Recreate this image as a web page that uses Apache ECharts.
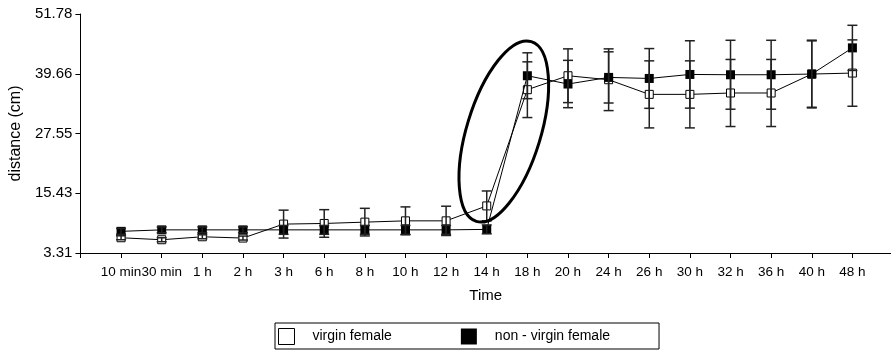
<!DOCTYPE html>
<html>
<head>
<meta charset="utf-8">
<script src="https://cdn.jsdelivr.net/npm/echarts@6/dist/echarts.min.js"></script>
<style>
  html, body { margin: 0; padding: 0; background: #fff; }
  #main { width: 891px; height: 351px; }
</style>
</head>
<body>
<div id="main"></div>
<script>
// time points (x axis)
let categories = ['10 min', '30 min', '1 h', '2 h', '3 h', '6 h', '8 h', '10 h', '12 h', '14 h',
  '18 h', '20 h', '24 h', '26 h', '30 h', '32 h', '36 h', '40 h', '48 h'];
// y tick labels
let yTicks = [3.31, 15.43, 27.55, 39.66, 51.78];

// mean distance (cm)
let virginMean = [6.40, 6.00, 6.60, 6.34, 9.17, 9.30, 9.57, 9.83, 9.83, 12.86,
  36.43, 39.26, 38.45, 35.48, 35.48, 35.76, 35.76, 39.60, 39.80];
let nonVirginMean = [7.70, 8.00, 8.00, 8.00, 8.00, 8.00, 8.00, 8.00, 8.00, 8.10,
  39.26, 37.58, 38.92, 38.71, 39.52, 39.46, 39.46, 39.60, 44.91];
// error (+/-)
let virginErr = [0.4, 0.4, 0.4, 0.4, 2.83, 2.8, 2.8, 2.83, 2.97, 3.03,
  5.65, 5.45, 6.26, 6.8, 6.8, 6.8, 6.8, 6.87, 6.73];
let nonVirginErr = [0.6, 0.6, 0.6, 0.6, 0.9, 0.9, 0.9, 0.9, 0.9, 0.9,
  4.65, 4.8, 5.19, 6.06, 6.83, 6.99, 6.99, 6.73, 4.58];

let legendNames = ['virgin female', 'non - virgin female'];

function toPoints(arr) {
  return arr.map(function (v, i) { return [i + 1, v]; });
}
function toErr(mean, err) {
  return mean.map(function (v, i) { return [i + 1, v - err[i], v + err[i]]; });
}

function errorRender(params, api) {
  let x = api.value(0);
  let lo = api.coord([x, api.value(1)]);
  let hi = api.coord([x, api.value(2)]);
  let hw = 5;
  let st = { stroke: '#222', lineWidth: 1.5 };
  return {
    type: 'group',
    children: [
      { type: 'line', shape: { x1: hi[0], y1: hi[1], x2: lo[0], y2: lo[1] }, style: st },
      { type: 'line', shape: { x1: hi[0] - hw, y1: hi[1], x2: hi[0] + hw, y2: hi[1] }, style: st },
      { type: 'line', shape: { x1: lo[0] - hw, y1: lo[1], x2: lo[0] + hw, y2: lo[1] }, style: st }
    ]
  };
}

let xTickVals = [0].concat(categories.map(function (c, i) { return i + 1; }));
let xLabelVals = categories.map(function (c, i) { return i + 1; });

let option = {
  animation: false,
  textStyle: { fontFamily: 'Liberation Sans, Arial, sans-serif' },
  grid: { left: 73, right: 0, top: 14, bottom: 98 },
  legend: {
    left: 275,
    top: 323,
    icon: 'rect',
    itemWidth: 16,
    itemHeight: 16,
    itemGap: 69,
    padding: [5, 49, 4, 3],
    borderColor: '#000',
    borderWidth: 1,
    selectedMode: false,
    textStyle: { color: '#000', fontSize: 14, padding: [0, 0, 0, 13] },
    data: [
      { name: legendNames[0], itemStyle: { color: '#fff', borderColor: '#000', borderWidth: 1 } },
      { name: legendNames[1], itemStyle: { color: '#000', borderWidth: 0 } }
    ]
  },
  xAxis: {
    type: 'value',
    min: 0,
    max: 19.95,
    name: 'Time',
    nameLocation: 'middle',
    nameGap: 35,
    nameTextStyle: { color: '#000', fontSize: 15 },
    axisLine: { show: true, lineStyle: { color: '#000', width: 1 } },
    axisTick: { show: true, length: 5, customValues: xTickVals, lineStyle: { color: '#000' } },
    axisLabel: {
      color: '#000',
      fontSize: 13.5,
      margin: 12,
      showMinLabel: true,
      hideOverlap: false,
      customValues: xLabelVals,
      formatter: function (v) { return categories[Math.round(v) - 1] || ''; }
    },
    splitLine: { show: false }
  },
  yAxis: {
    type: 'value',
    min: yTicks[0],
    max: yTicks[yTicks.length - 1],
    name: 'distance (cm)',
    nameLocation: 'middle',
    nameGap: 49,
    nameTextStyle: { color: '#000', fontSize: 16 },
    axisLine: { show: true, lineStyle: { color: '#000', width: 1 } },
    axisTick: { show: true, length: 5, customValues: yTicks, lineStyle: { color: '#000' } },
    axisLabel: {
      color: '#000',
      fontSize: 15,
      margin: 8,
      customValues: yTicks,
      formatter: function (v) { return v.toFixed(2); }
    },
    splitLine: { show: false }
  },
  series: [
    {
      name: legendNames[0],
      type: 'line',
      z: 2,
      data: toPoints(virginMean),
      symbol: 'rect',
      symbolSize: 8,
      lineStyle: { color: '#000', width: 1 },
      itemStyle: { color: '#fff', borderColor: '#000', borderWidth: 1 },
      emphasis: { disabled: true }
    },
    {
      name: legendNames[1],
      type: 'line',
      z: 3,
      data: toPoints(nonVirginMean),
      symbol: 'rect',
      symbolSize: 9,
      lineStyle: { color: '#000', width: 1 },
      itemStyle: { color: '#000', borderColor: '#000', borderWidth: 0 },
      emphasis: { disabled: true }
    },
    {
      name: 'virgin err',
      type: 'custom',
      z: 4,
      data: toErr(virginMean, virginErr),
      renderItem: errorRender,
      encode: { x: 0, y: [1, 2] }
    },
    {
      name: 'non-virgin err',
      type: 'custom',
      z: 4,
      data: toErr(nonVirginMean, nonVirginErr),
      renderItem: errorRender,
      encode: { x: 0, y: [1, 2] }
    }
  ]
};

let myChart = echarts.init(document.getElementById('main'));
myChart.setOption(option);

// hand-drawn ellipse highlighting the jump between 14 h and 18 h
let c = myChart.convertToPixel({ gridIndex: 0 }, [10.42, 27.95]);
myChart.setOption({
  graphic: [{
    type: 'ellipse',
    x: c[0],
    y: c[1],
    rotation: -17 * Math.PI / 180,
    shape: { cx: 0, cy: 0, rx: 37, ry: 94 },
    style: { fill: 'none', stroke: '#000', lineWidth: 3 },
    z: 10
  }]
});
</script>
</body>
</html>
